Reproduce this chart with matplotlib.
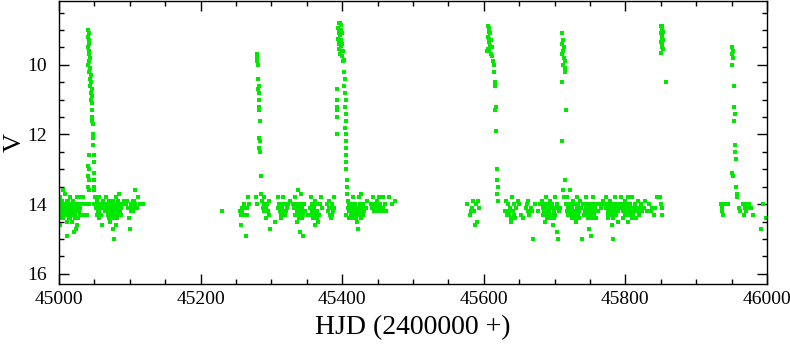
import numpy as np
import matplotlib.pyplot as plt

plt.rcParams['font.family'] = ['Liberation Serif', 'DejaVu Serif']

# (HJD - 2400000, V), grouped by stretch
quiet_1 = [(45000, 14.0), (45000, 14.2), (45001, 14.3), (45001, 14.6), (45002, 13.8), (45003, 14.1),
           (45004, 14.2), (45005, 13.6), (45006, 14.0), (45006, 14.4), (45007, 14.1), (45008, 13.7),
           (45008, 14.1), (45009, 14.3), (45010, 14.0), (45010, 14.2), (45011, 14.5), (45012, 14.9),
           (45013, 13.9), (45013, 14.2), (45014, 14.1), (45015, 14.4), (45016, 13.8), (45016, 14.0),
           (45017, 14.3), (45018, 14.2), (45018, 14.0), (45019, 14.5), (45020, 13.9), (45020, 14.1),
           (45021, 14.8), (45022, 14.0), (45022, 14.3), (45023, 14.2), (45023, 14.4), (45024, 14.7),
           (45025, 13.8), (45025, 14.1), (45026, 14.6), (45026, 14.2), (45027, 14.0), (45028, 14.2),
           (45030, 14.1), (45031, 13.8), (45032, 14.0), (45034, 13.8), (45036, 14.3), (45038, 14.0),
           (45050, 14.0), (45051, 13.8), (45052, 14.1), (45053, 14.3), (45054, 13.9), (45055, 14.0),
           (45055, 14.2), (45056, 14.4), (45057, 13.8), (45058, 14.1), (45059, 14.0), (45060, 14.3),
           (45061, 14.6), (45062, 13.9), (45063, 14.1), (45064, 14.0), (45066, 14.2), (45067, 13.8),
           (45068, 14.0), (45069, 14.1), (45070, 14.3), (45071, 13.9), (45072, 14.2), (45072, 14.5),
           (45073, 14.0), (45074, 14.1), (45075, 14.4), (45076, 13.9), (45076, 14.7), (45077, 14.2),
           (45078, 15.0), (45078, 14.0), (45079, 14.3), (45080, 14.1), (45080, 14.6), (45081, 13.8),
           (45082, 14.0), (45083, 14.2), (45084, 14.1), (45085, 13.7), (45086, 14.0), (45087, 14.3),
           (45088, 14.1), (45090, 14.0), (45092, 13.9), (45095, 14.0), (45096, 13.9), (45098, 14.1),
           (45099, 14.4), (45100, 14.7), (45101, 14.2), (45102, 14.0), (45104, 13.9), (45105, 14.1),
           (45107, 14.0), (45108, 13.6), (45110, 14.1), (45112, 13.8), (45114, 14.0), (45118, 14.0)]

quiet_1_extra = [(45003, 14.4), (45004, 13.9), (45007, 14.3), (45009, 14.1), (45011, 13.9), (45012, 14.3),
                 (45014, 14.4), (45015, 14.2), (45017, 14.1), (45019, 14.3), (45021, 14.2), (45024, 14.1),
                 (45027, 14.4), (45029, 14.3), (45053, 14.1), (45057, 14.2), (45059, 14.3), (45065, 14.2),
                 (45069, 14.3), (45071, 14.4), (45073, 14.3), (45074, 14.2), (45075, 14.0), (45077, 14.4),
                 (45079, 14.1), (45081, 14.2), (45082, 14.4), (45083, 13.9), (45084, 14.3), (45086, 14.2),
                 (45103, 14.1), (45104, 14.2), (45106, 13.9)]

outburst_1 = [(45041, 9.0), (45042, 9.1), (45041, 9.2), (45042, 9.3), (45043, 9.4), (45041, 9.5),
              (45043, 9.6), (45042, 9.7), (45044, 9.8), (45043, 9.9), (45041, 10.0), (45044, 10.1),
              (45043, 10.2), (45045, 10.3), (45044, 10.4), (45045, 10.5), (45044, 10.6), (45046, 10.7),
              (45045, 10.8), (45046, 10.9), (45045, 11.0), (45047, 11.1), (45046, 11.3), (45047, 11.5),
              (45047, 11.6), (45048, 11.7), (45048, 12.0), (45048, 12.1), (45048, 12.3), (45042, 12.6),
              (45043, 12.6), (45049, 12.6), (45049, 12.8), (45041, 12.9), (45042, 13.0), (45049, 13.1),
              (45041, 13.2), (45042, 13.3), (45049, 13.3), (45041, 13.5), (45043, 13.6), (45050, 13.5),
              (45049, 13.6), (45039, 14.3), (45042, 14.0)]

quiet_2 = [(45230, 14.2), (45256, 14.2), (45257, 14.3), (45257, 14.6), (45258, 14.1), (45259, 14.2),
           (45261, 14.0), (45262, 14.3), (45264, 14.9), (45265, 14.1), (45266, 14.3), (45267, 13.8),
           (45268, 14.0), (45287, 13.9), (45288, 14.1), (45289, 13.8), (45290, 14.0), (45291, 14.2),
           (45292, 14.4), (45293, 14.1), (45294, 14.0), (45296, 14.3), (45297, 13.9), (45298, 14.7),
           (45305, 14.5), (45309, 14.1), (45310, 13.8), (45311, 14.0), (45312, 14.2), (45313, 14.4),
           (45314, 14.0), (45315, 14.1), (45316, 13.8), (45317, 14.3), (45318, 14.0), (45320, 14.2),
           (45322, 14.1), (45324, 14.0), (45326, 13.9), (45330, 14.0), (45332, 14.1), (45333, 14.3),
           (45334, 13.8), (45335, 14.0), (45336, 14.2), (45336, 14.5), (45337, 13.6), (45338, 14.1),
           (45339, 14.4), (45340, 14.0), (45340, 14.8), (45341, 14.2), (45342, 13.7), (45343, 14.1),
           (45344, 14.3), (45344, 14.9), (45346, 14.0), (45348, 14.2), (45352, 14.3), (45354, 14.1),
           (45356, 13.8), (45357, 14.0), (45358, 14.2), (45359, 14.4), (45360, 14.1), (45361, 14.6),
           (45362, 13.9), (45363, 14.0), (45364, 14.3), (45365, 14.2), (45366, 14.5), (45368, 14.0),
           (45370, 13.8), (45372, 14.1), (45378, 14.0), (45380, 14.2), (45382, 13.9), (45383, 14.1),
           (45384, 14.4), (45385, 14.3), (45386, 14.0), (45387, 14.2), (45388, 13.8), (45389, 14.1)]

quiet_2_extra = [(45259, 14.3), (45262, 14.1), (45290, 14.2), (45292, 14.1), (45295, 14.2), (45312, 14.0),
                 (45314, 14.3), (45316, 14.2), (45319, 14.3), (45321, 14.0), (45335, 14.3), (45337, 14.2),
                 (45338, 14.3), (45339, 14.2), (45341, 14.4), (45342, 14.3), (45343, 14.4), (45345, 14.2),
                 (45357, 14.3), (45358, 14.0), (45359, 14.2), (45361, 14.3), (45363, 14.2), (45364, 14.4),
                 (45365, 14.0), (45367, 14.3), (45381, 14.1), (45383, 14.3), (45385, 14.1)]

outburst_2 = [(45279, 9.7), (45280, 9.8), (45279, 9.9), (45281, 10.0), (45281, 10.4), (45282, 10.6),
              (45281, 10.7), (45282, 10.8), (45283, 11.0), (45282, 11.2), (45283, 11.3), (45284, 11.6),
              (45283, 12.1), (45284, 12.2), (45283, 12.4), (45284, 12.5), (45285, 13.2), (45286, 13.7),
              (45279, 14.0), (45278, 13.8)]

outburst_3 = [(45395, 8.8), (45397, 8.8), (45399, 8.85), (45394, 8.95), (45396, 9.0), (45398, 9.0),
              (45395, 9.1), (45397, 9.15), (45400, 9.1), (45394, 9.25), (45396, 9.3), (45399, 9.3),
              (45395, 9.4), (45398, 9.45), (45400, 9.4), (45396, 9.55), (45399, 9.6), (45401, 9.6),
              (45397, 9.7), (45400, 9.75), (45402, 9.85), (45401, 9.9), (45392, 10.7), (45393, 11.0),
              (45392, 11.3), (45393, 11.2), (45392, 11.5), (45392, 12.0), (45403, 10.2), (45404, 10.4),
              (45403, 10.6), (45404, 10.8), (45405, 11.0), (45404, 11.2), (45405, 11.4), (45405, 11.6),
              (45404, 11.8), (45405, 12.0), (45406, 12.2), (45405, 12.4), (45406, 12.6), (45406, 12.8),
              (45406, 13.0), (45407, 13.3), (45407, 13.5), (45408, 13.9), (45407, 13.7), (45406, 14.3),
              (45408, 14.1)]

quiet_3 = [(45409, 14.0), (45410, 14.2), (45410, 14.4), (45411, 14.1), (45412, 14.3), (45413, 14.0),
           (45414, 14.2), (45415, 13.8), (45416, 14.1), (45417, 14.3), (45418, 14.0), (45419, 14.4),
           (45420, 14.2), (45421, 14.5), (45422, 14.7), (45423, 14.1), (45424, 13.8), (45425, 14.0),
           (45426, 14.2), (45427, 13.7), (45428, 14.1), (45429, 14.3), (45430, 14.0), (45431, 14.2),
           (45433, 14.1), (45435, 13.9), (45440, 14.0), (45442, 14.1), (45444, 13.8), (45446, 14.0),
           (45447, 14.2), (45448, 14.1), (45449, 13.9), (45450, 14.0), (45451, 14.2), (45452, 13.8),
           (45453, 14.1), (45454, 14.0), (45456, 14.2), (45458, 14.1), (45460, 14.0), (45462, 14.2),
           (45466, 13.8), (45470, 14.0), (45474, 13.9),
           (45412, 14.1), (45414, 14.4), (45416, 14.3), (45418, 14.2), (45420, 14.4), (45422, 14.3),
           (45424, 14.2), (45426, 14.4), (45428, 14.3), (45445, 14.2), (45449, 14.2), (45451, 14.1),
           (45455, 14.2), (45457, 13.8)]

quiet_4 = [(45576, 14.0), (45580, 14.3), (45582, 14.2), (45583, 14.1), (45585, 13.9), (45586, 14.2),
           (45588, 14.6), (45589, 14.0), (45590, 14.5), (45592, 13.9), (45593, 14.1),
           (45630, 14.2), (45632, 13.9), (45634, 14.0), (45635, 14.3), (45637, 14.1), (45638, 14.5),
           (45640, 13.8), (45641, 14.2), (45643, 14.0), (45644, 14.4), (45646, 14.1), (45648, 13.9),
           (45650, 14.0), (45652, 14.3), (45656, 14.4), (45659, 14.1), (45661, 14.0), (45662, 14.2),
           (45663, 13.9), (45664, 14.3), (45666, 14.1), (45668, 14.2), (45670, 15.0), (45672, 14.0),
           (45676, 14.2), (45680, 14.0), (45682, 13.9), (45683, 14.1), (45684, 14.3), (45685, 14.0),
           (45686, 14.2), (45687, 14.5), (45688, 13.8), (45689, 14.1), (45690, 14.3), (45691, 14.0),
           (45692, 14.2), (45693, 14.4), (45694, 13.9), (45695, 14.1), (45696, 14.0), (45697, 14.3),
           (45698, 14.6), (45699, 14.2), (45700, 13.8), (45702, 14.1), (45703, 14.8), (45704, 14.0),
           (45705, 15.0), (45706, 14.2), (45708, 14.1), (45716, 14.0), (45717, 14.2), (45718, 13.8),
           (45719, 14.1), (45720, 14.3), (45721, 14.0), (45722, 13.6), (45723, 14.2), (45724, 14.4),
           (45725, 14.1), (45726, 13.9), (45727, 14.0), (45728, 14.3), (45729, 14.2), (45730, 14.5),
           (45731, 13.8), (45732, 14.1), (45733, 14.0), (45734, 14.2), (45735, 14.4), (45736, 13.9),
           (45737, 14.1), (45738, 15.0), (45740, 14.0), (45742, 14.3), (45744, 14.1), (45745, 13.8),
           (45746, 14.0), (45747, 14.2), (45748, 14.7), (45749, 14.3), (45750, 14.0), (45751, 14.9),
           (45752, 14.1), (45753, 14.2), (45754, 13.8), (45755, 14.0), (45756, 14.3), (45757, 14.1),
           (45758, 14.4), (45760, 14.0), (45762, 14.2), (45764, 14.0), (45766, 14.1), (45768, 13.9),
           (45770, 14.0), (45772, 14.1), (45773, 13.8), (45774, 14.0), (45775, 14.2), (45776, 14.4),
           (45777, 14.1), (45778, 13.9), (45779, 14.3), (45780, 14.0), (45781, 14.6), (45782, 15.0),
           (45783, 14.2), (45784, 14.1), (45785, 13.8), (45786, 14.0), (45787, 14.3), (45788, 14.2),
           (45789, 14.5), (45790, 14.0), (45792, 14.1), (45794, 13.8), (45795, 14.0), (45796, 14.2),
           (45797, 14.4), (45798, 14.1), (45799, 13.9), (45800, 14.3), (45801, 14.0), (45802, 14.2),
           (45803, 14.5), (45804, 13.8), (45805, 14.1), (45806, 14.0), (45807, 14.3), (45808, 14.2),
           (45809, 14.4), (45810, 13.8), (45812, 14.1), (45814, 14.0), (45816, 14.2), (45818, 13.9),
           (45820, 14.1), (45822, 14.0), (45824, 14.2), (45826, 14.1), (45828, 13.9), (45833, 14.0),
           (45836, 14.2), (45838, 14.1), (45840, 14.3), (45845, 13.8), (45847, 13.8)]

quiet_4_extra = [(45633, 14.3), (45636, 14.2), (45639, 14.4), (45642, 14.3), (45685, 14.2), (45687, 14.3),
                 (45689, 14.4), (45691, 14.3), (45693, 14.1), (45695, 14.3), (45697, 14.1), (45699, 14.4),
                 (45701, 14.3), (45719, 14.3), (45721, 14.2), (45723, 14.0), (45725, 14.3), (45727, 14.2),
                 (45729, 14.4), (45731, 14.3), (45733, 14.3), (45743, 14.2), (45745, 14.3), (45747, 14.4),
                 (45749, 14.1), (45751, 14.3), (45753, 14.4), (45755, 14.2), (45775, 14.3), (45777, 14.3),
                 (45779, 14.1), (45781, 14.2), (45783, 14.4), (45785, 14.3), (45787, 14.1), (45789, 14.2),
                 (45799, 14.2), (45801, 14.3), (45803, 14.1), (45805, 14.3), (45807, 14.1), (45809, 14.2),
                 (45811, 14.3), (45813, 14.2), (45815, 14.4), (45817, 14.1), (45819, 14.3), (45821, 14.2),
                 (45830, 14.2), (45842, 14.1)]

outburst_4 = [(45606, 8.9), (45608, 8.95), (45607, 9.05), (45609, 9.1), (45606, 9.2), (45608, 9.25),
              (45610, 9.3), (45607, 9.35), (45609, 9.45), (45606, 9.55), (45611, 9.5), (45608, 9.6),
              (45610, 9.7), (45612, 9.75), (45613, 9.9), (45614, 10.0), (45615, 10.2), (45616, 10.5),
              (45616, 10.6), (45617, 11.2), (45616, 11.3), (45617, 11.9), (45618, 13.0), (45619, 13.3),
              (45620, 13.5), (45619, 13.7), (45620, 13.9), (45604, 9.6)]

outburst_5 = [(45711, 9.1), (45712, 9.3), (45711, 9.4), (45713, 9.5), (45712, 9.6), (45711, 9.7),
              (45713, 9.8), (45714, 9.9), (45712, 10.0), (45715, 10.1), (45714, 10.2), (45711, 10.5),
              (45716, 11.3), (45711, 12.2), (45712, 13.6), (45714, 13.3), (45713, 13.8)]

outburst_6 = [(45850, 8.9), (45852, 8.9), (45851, 9.0), (45853, 9.05), (45850, 9.1), (45852, 9.15),
              (45851, 9.25), (45853, 9.3), (45850, 9.35), (45852, 9.4), (45851, 9.5), (45853, 9.55),
              (45850, 9.65), (45858, 10.5), (45849, 13.8), (45850, 14.0), (45851, 14.1), (45852, 14.3)]

quiet_5 = [(45935, 14.0), (45936, 14.2), (45937, 14.1), (45938, 14.3), (45940, 14.0), (45945, 14.0),
           (45960, 14.1), (45962, 14.2), (45966, 14.0), (45968, 14.3), (45969, 14.1), (45970, 14.2),
           (45971, 14.0), (45972, 14.1), (45974, 14.0), (45978, 14.1), (45980, 14.3), (45991, 14.7),
           (45995, 14.0), (45998, 14.4), (45999, 14.4)]

outburst_7 = [(45951, 9.5), (45952, 9.6), (45951, 9.7), (45952, 9.8), (45951, 10.0), (45954, 10.6),
              (45954, 11.2), (45955, 11.4), (45954, 11.6), (45955, 12.3), (45955, 12.5), (45956, 12.7),
              (45951, 13.1), (45952, 13.2), (45956, 13.5), (45957, 13.7), (45958, 13.8)]

stretches = [quiet_1, quiet_1_extra, outburst_1, quiet_2, quiet_2_extra, outburst_2, outburst_3,
             quiet_3, quiet_4, quiet_4_extra, outburst_4, outburst_5, outburst_6, quiet_5, outburst_7]
pts = np.array([p for s in stretches for p in s], dtype=float)

fig = plt.figure(figsize=(7.9, 3.44), dpi=100)
ax = fig.add_axes([59 / 790, 1 - 284 / 344, 708 / 790, 283 / 344])
ax.plot(pts[:, 0], pts[:, 1], 's', color='#00e800', ms=2.4, mew=0)

ax.set_xlim(45000, 46000)
ax.set_ylim(16.29, 8.17)
ax.set_xticks(np.arange(45000, 46001, 200))
ax.set_xticks(np.arange(45000, 46001, 50), minor=True)
ax.set_yticks([10, 12, 14, 16])
ax.set_yticks(np.arange(8.5, 16.3, 0.5), minor=True)
ax.tick_params(which='both', direction='in', top=True, right=True, width=1, labelsize=14)
ax.tick_params(which='major', length=7)
ax.tick_params(which='minor', length=3.5)
ax.tick_params(axis='x', pad=5)
ax.tick_params(axis='y', pad=9)
for s in ax.spines.values():
    s.set_linewidth(1)

ax.set_xlabel('HJD (2400000 +)', fontsize=20, labelpad=5)
ax.set_ylabel('V', fontsize=19, va='center')
ax.yaxis.set_label_coords(-0.063, 0.5)

fig.savefig('out.png', dpi=100)
